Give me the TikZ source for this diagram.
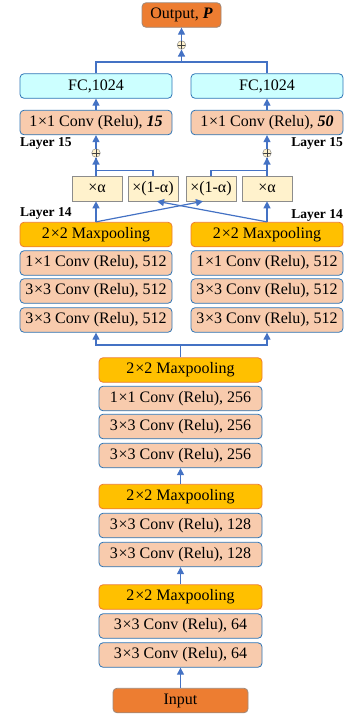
\documentclass[tikz,border=0pt]{standalone}
\usepackage{fontspec}
\setmainfont{Liberation Serif}
\usetikzlibrary{arrows.meta,calc}
\definecolor{peach}{HTML}{F8CBAD}
\definecolor{bord}{HTML}{2E75B6}
\definecolor{gold}{HTML}{FFC000}
\definecolor{orng}{HTML}{ED7D31}
\definecolor{cyanl}{HTML}{CCFFFF}
\definecolor{yell}{HTML}{FFF2CC}
\definecolor{arrc}{HTML}{4472C4}
\definecolor{grayb}{HTML}{8C8C8C}
\newcommand{\tms}{\kern0.8pt×}
\begin{document}
\begin{tikzpicture}[x=1pt,y=-1pt,
  box/.style={draw=bord, line width=0.8pt, rounded corners=4pt, minimum height=24.5pt, inner sep=0pt, font=\fontsize{16}{18}\selectfont},
  conv/.style={box, fill=peach},
  pool/.style={box, fill=gold, draw=orng},
  fcbox/.style={box, fill=cyanl},
  endbox/.style={box, fill=orng, draw=grayb!80!orng},
  abox/.style={draw=grayb, fill=yell, line width=0.6pt, minimum width=50pt, minimum height=25pt, inner sep=0pt, font=\fontsize{16}{18}\selectfont},
  lab/.style={font=\fontsize{13.5}{15}\selectfont\bfseries, inner sep=0pt},
  arr/.style={draw=arrc, line width=1.2pt, -{Triangle[length=7pt,width=7pt]}},
  ln/.style={draw=arrc, line width=1.2pt},
  plusc/.style={circle, draw=grayb, fill=yell, minimum size=8.5pt, inner sep=0pt, line width=0.5pt,
    path picture={\draw[black!75, line width=0.6pt] (path picture bounding box.north) -- (path picture bounding box.south) (path picture bounding box.west) -- (path picture bounding box.east);}}
]
\useasboundingbox (0,0) rectangle (357,715);

% top
\node[endbox, minimum width=79pt] (out) at (181.5,15) {Output, \textbf{\textit{P}}};
\node[plusc] (pT) at (181.5,45) {};
\coordinate (jn) at (181.5,62);

\node[fcbox, minimum width=152pt] (fcL) at (96,86) {FC,1024};
\node[fcbox, minimum width=152pt] (fcR) at (267,86) {FC,1024};
\node[conv, minimum width=152pt] (cL) at (96,122.5) {1\tms1 Conv (Relu), \textbf{\textit{15}}};
\node[conv, minimum width=152pt] (cR) at (267,122.5) {1\tms1 Conv (Relu), \textbf{\textit{50}}};

\node[lab, anchor=west] (l15L) at (20,143) {Layer 15};
\node[lab, anchor=east] (l15R) at (343,143) {Layer 15};
\node[plusc] (pL) at (96,153) {};
\node[plusc] (pR) at (267,153) {};

\node[abox] (a1) at (97,188.5) {×α};
\node[abox] (a2) at (153,188.5) {×(1-α)};
\node[abox] (a3) at (211,188.5) {×(1-α)};
\node[abox] (a4) at (267,188.5) {×α};

\node[lab, anchor=west] (l14L) at (20,213) {Layer 14};
\node[lab, anchor=east] (l14R) at (343,215) {Layer 14};

% upper branches
\foreach \s/\x in {L/96,R/267}{
  \node[pool, minimum width=152pt] (mp\s) at (\x,234.5) {2\tms2 Maxpooling};
  \node[conv, minimum width=152pt] (c1\s) at (\x,263) {1\tms1 Conv (Relu), 512};
  \node[conv, minimum width=152pt] (c2\s) at (\x,291) {3\tms3 Conv (Relu), 512};
  \node[conv, minimum width=152pt] (c3\s) at (\x,320) {3\tms3 Conv (Relu), 512};
}
\coordinate (jb) at (180.5,345);

% middle stack
\node[pool, minimum width=163pt] (mp1) at (180.5,370) {2\tms2 Maxpooling};
\node[conv, minimum width=163pt] (d1) at (180.5,398.5) {1\tms1 Conv (Relu), 256};
\node[conv, minimum width=163pt] (d2) at (180.5,426.5) {3\tms3 Conv (Relu), 256};
\node[conv, minimum width=163pt] (d3) at (180.5,455.5) {3\tms3 Conv (Relu), 256};
\node[pool, minimum width=163pt] (mp2) at (180.5,496.5) {2\tms2 Maxpooling};
\node[conv, minimum width=163pt] (e1) at (180.5,525.5) {3\tms3 Conv (Relu), 128};
\node[conv, minimum width=163pt] (e2) at (180.5,554.5) {3\tms3 Conv (Relu), 128};
\node[pool, minimum width=163pt] (mp3) at (180.5,597) {2\tms2 Maxpooling};
\node[conv, minimum width=163pt] (f1) at (180.5,626) {3\tms3 Conv (Relu), 64};
\node[conv, minimum width=163pt] (f2) at (180.5,655) {3\tms3 Conv (Relu), 64};
\node[endbox, minimum width=135pt] (in) at (180.5,700.5) {Input};

% connectors
\draw[ln] (fcL.north) |- (jn) -| (fcR.north);
\draw[arr] (jn) -- (pT.south);
\draw[arr] (pT.north) -- (out.south);
\draw[arr] (cL.north) -- (fcL.south);
\draw[arr] (cR.north) -- (fcR.south);
\draw[arr] (pL.north) -- (cL.south);
\draw[arr] (pR.north) -- (cR.south);
\draw[arr] (a1.north -| pL) -- (pL.south);
\draw[arr] (a4.north -| pR) -- (pR.south);
\draw[ln] (a2.north) -- ++(0,-5) -| (pL.south);
\draw[ln] (a3.north) -- ++(0,-5) -| (pR.south);
\draw[arr] (mpL.north) -- (a1.south -| mpL.north);
\draw[arr] (mpR.north) -- (a4.south);
\draw[arr] (mpL.north) -- ($(a3.south)+(-8,0)$);
\draw[arr] (mpR.north) -- ($(a2.south)+(4,0)$);
\draw[ln] (mp1.north) -- (jb);
\draw[arr] (jb) -| (c3L.south);
\draw[arr] (jb) -| (c3R.south);
\draw[arr] (mp2.north) -- (d3.south);
\draw[arr] (mp3.north) -- (e2.south);
\draw[arr] (in.north) -- (f2.south);
\end{tikzpicture}
\end{document}
